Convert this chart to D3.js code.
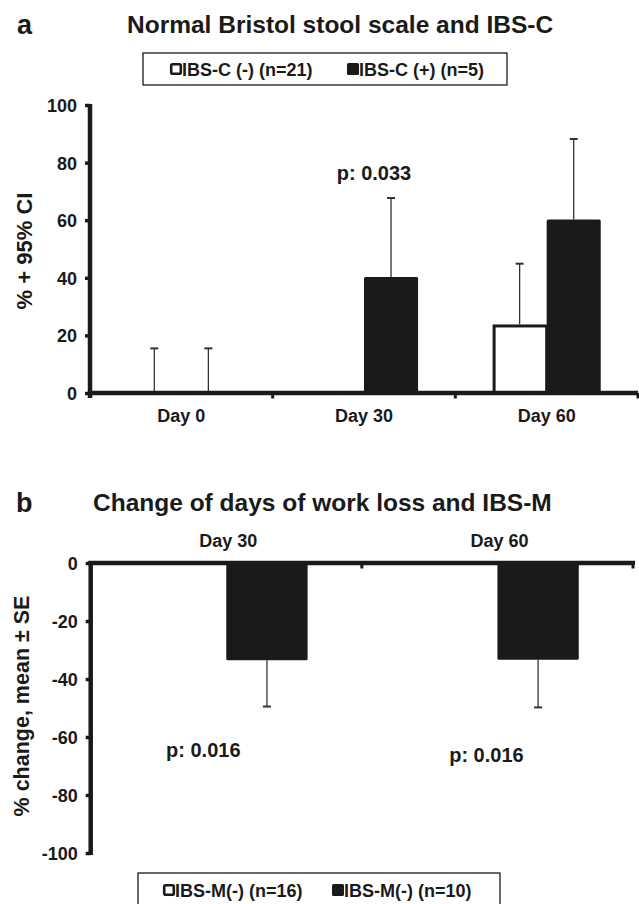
<!doctype html>
<html lang="en">
<head>
    <meta charset="UTF-8">
    <title>Bristol stool scale and work loss</title>
    <script src="https://d3js.org/d3.v7.min.js"></script>
    <style>
      body { margin: 0; background: #fff; }
      text { font-family: "Liberation Sans", Arial, sans-serif; font-weight: bold; fill: #1a1a1a; }
    </style>
</head>
<body>
    <svg width="639" height="904"></svg>

    <script>

      // Panel a data: % with normal Bristol stool scale, upper 95% CI
      const daysA = ["Day 0", "Day 30", "Day 60"];
      const seriesA = ["IBS-C (-) (n=21)", "IBS-C (+) (n=5)"];
      const ibsCneg = [0, 0, 23.8];
      const ibsCnegUpper = [15.5, 0, 44.9];
      const ibsCpos = [0, 40.3, 60.2];
      const ibsCposUpper = [15.5, 67.7, 88.2];
      const pA = [null, "p: 0.033", null];
      const ticksA = [0, 20, 40, 60, 80, 100];

      // Panel b data: % change of days of work loss, mean and SE
      const daysB = ["Day 30", "Day 60"];
      const seriesB = ["IBS-M(-) (n=16)", "IBS-M(-) (n=10)"];
      const ibsMneg = [0, 0];
      const ibsMnegSE = [0, 0];
      const ibsMpos = [-33.5, -33.4];
      const ibsMposSE = [16.0, 16.4];
      const pB = ["p: 0.016", "p: 0.016"];
      const ticksB = [0, -20, -40, -60, -80, -100];

      const ink = "#1a1a1a";
      const svg = d3.select("svg");

      function bars(days, values, errs) {
        return days.map((d, i) => values.map((v, s) => ({ day: d, s, v: v[i], e: errs[s][i] })));
      }

      function drawLegend(g, names, x0, y0, w, h, pos) {
        g.append("rect")
            .attr("x", x0).attr("y", y0).attr("width", w).attr("height", h)
            .attr("fill", "#fff").attr("stroke", ink).attr("stroke-width", 1.3);
        names.forEach((n, i) => {
          const sx = pos[i];
          g.append("rect")
              .attr("x", sx + (i === 0 ? 1.2 : 0)).attr("y", y0 + h / 2 - (i === 0 ? 4.8 : 6))
              .attr("width", i === 0 ? 9.6 : 12).attr("height", i === 0 ? 9.6 : 12)
              .attr("rx", 1.5)
              .attr("fill", i === 0 ? "#fff" : ink)
              .attr("stroke", ink).attr("stroke-width", i === 0 ? 2.6 : 0);
          g.append("text")
              .attr("x", sx + 12).attr("y", y0 + h / 2 + 6.5)
              .attr("font-size", 18)
              .text(n);
        });
      }

      function styleAxis(axis, d) {
        axis.select(".domain").attr("stroke", ink).attr("stroke-width", 4.5).attr("d", d);
        axis.selectAll(".tick line").attr("stroke", ink).attr("stroke-width", 3.5);
        axis.selectAll(".tick text").attr("font-size", 18).attr("dy", "0.36em")
            .style("font-family", "'Liberation Sans', Arial, sans-serif").style("font-weight", "bold").attr("fill", ink);
      }

      // ---------- Panel a ----------
      const ga = svg.append("g");
      const xa = d3.scaleBand().domain(daysA).range([90, 638]);
      const ya = d3.scaleLinear().domain([0, 100]).range([393, 105]);
      const bwA = xa.bandwidth() * 0.296;
      const dataA = bars(daysA, [ibsCneg, ibsCpos], [ibsCnegUpper, ibsCposUpper]);

      ga.append("text").attr("x", 17).attr("y", 34).attr("font-size", 27).text("a");
      ga.append("text").attr("x", 127).attr("y", 33).attr("font-size", 24.5)
          .text("Normal Bristol stool scale and IBS-C");

      drawLegend(ga, seriesA, 143, 53, 364, 32, [170, 347]);

      dataA.flat().forEach(d => {
        const cx = xa(d.day) + xa.bandwidth() / 2;
        const x = d.s === 0 ? cx - bwA : cx;
        // error bar (upper CI)
        if (d.e > d.v) {
          const ex = x + bwA / 2;
          ga.append("line").attr("x1", ex).attr("x2", ex)
              .attr("y1", ya(d.v)).attr("y2", ya(d.e))
              .attr("stroke", "#333").attr("stroke-width", 1.3);
          ga.append("line").attr("x1", ex - 4).attr("x2", ex + 4)
              .attr("y1", ya(d.e)).attr("y2", ya(d.e))
              .attr("stroke", "#333").attr("stroke-width", 2);
        }
        if (d.v > 0) {
          ga.append("rect")
              .attr("x", d.s === 0 ? x + 1.5 : x).attr("y", ya(d.v) + (d.s === 0 ? 1.5 : 0))
              .attr("width", d.s === 0 ? bwA - 1.5 : bwA)
              .attr("height", ya(0) - ya(d.v) - (d.s === 0 ? 1.5 : 0))
              .attr("rx", d.s === 0 ? 0 : 1.5)
              .attr("fill", d.s === 0 ? "#fff" : ink)
              .attr("stroke", ink).attr("stroke-width", d.s === 0 ? 3 : 0);
        }
      });

      const axisA = ga.append("g")
          .attr("transform", "translate(90,0)")
          .call(d3.axisLeft(ya).tickValues(ticksA).tickFormat(d => String(d)).tickSize(5).tickPadding(8));
      styleAxis(axisA, `M0,${ya(100) - 1}V${ya(0) + 5}`);

      ga.append("line").attr("x1", 88).attr("x2", 638)
          .attr("y1", ya(0)).attr("y2", ya(0))
          .attr("stroke", ink).attr("stroke-width", 4.5);
      daysA.forEach(d => {
        const tx = xa(d) + xa.bandwidth();
        ga.append("line").attr("x1", tx).attr("x2", tx)
            .attr("y1", ya(0)).attr("y2", ya(0) + 5.5)
            .attr("stroke", ink).attr("stroke-width", 3);
        ga.append("text").attr("x", xa(d) + xa.bandwidth() / 2).attr("y", 422)
            .attr("text-anchor", "middle").attr("font-size", 18).text(d);
      });

      pA.forEach((p, i) => {
        if (!p) return;
        ga.append("text").attr("x", xa(daysA[i]) + xa.bandwidth() / 2 + 10).attr("y", 180)
            .attr("text-anchor", "middle").attr("font-size", 20).text(p);
      });

      ga.append("text")
          .attr("transform", `translate(32,251) rotate(-90)`)
          .attr("text-anchor", "middle").attr("font-size", 22)
          .text("% + 95% CI");

      // ---------- Panel b ----------
      const gb = svg.append("g");
      const xb = d3.scaleBand().domain(daysB).range([90.7, 633]);
      const yb = d3.scaleLinear().domain([0, -100]).range([563, 853]);
      const bwB = xb.bandwidth() * 0.3;
      const dataB = bars(daysB, [ibsMneg, ibsMpos], [ibsMnegSE, ibsMposSE]);

      gb.append("text").attr("x", 16).attr("y", 512).attr("font-size", 27).text("b");
      gb.append("text").attr("x", 93).attr("y", 511).attr("font-size", 24.5)
          .text("Change of days of work loss and IBS-M");

      dataB.flat().forEach(d => {
        const cx = xb(d.day) + xb.bandwidth() / 2;
        const x = d.s === 0 ? cx - bwB : cx;
        if (d.e > 0) {
          const ex = x + bwB / 2;
          const lo = d.v - d.e;
          gb.append("line").attr("x1", ex).attr("x2", ex)
              .attr("y1", yb(d.v)).attr("y2", yb(lo))
              .attr("stroke", "#333").attr("stroke-width", 1.3);
          gb.append("line").attr("x1", ex - 4).attr("x2", ex + 4)
              .attr("y1", yb(lo)).attr("y2", yb(lo))
              .attr("stroke", "#333").attr("stroke-width", 2);
        }
        if (d.v < 0) {
          gb.append("rect")
              .attr("x", x).attr("y", yb(0))
              .attr("width", bwB).attr("height", yb(d.v) - yb(0))
              .attr("rx", 1.5)
              .attr("fill", d.s === 0 ? "#fff" : ink);
        }
      });

      const axisB = gb.append("g")
          .attr("transform", "translate(90.7,0)")
          .call(d3.axisLeft(yb).tickValues(ticksB).tickFormat(d => String(d)).tickSize(5).tickPadding(8));
      styleAxis(axisB, `M0,${yb(0) - 2}V${yb(-100) + 2}`);

      gb.append("line").attr("x1", 88.5).attr("x2", 635)
          .attr("y1", yb(0)).attr("y2", yb(0))
          .attr("stroke", ink).attr("stroke-width", 4.5);
      daysB.forEach(d => {
        const tx = xb(d) + xb.bandwidth();
        gb.append("line").attr("x1", tx).attr("x2", tx)
            .attr("y1", yb(0)).attr("y2", yb(0) + 5.5)
            .attr("stroke", ink).attr("stroke-width", 3);
        gb.append("text").attr("x", xb(d) + xb.bandwidth() / 2 + 2).attr("y", 547)
            .attr("text-anchor", "middle").attr("font-size", 18).text(d);
      });

      const pBy = [757, 762];
      pB.forEach((p, i) => {
        gb.append("text").attr("x", xb(daysB[i]) + xb.bandwidth() / 2 - (i === 0 ? 23 : 11)).attr("y", pBy[i])
            .attr("text-anchor", "middle").attr("font-size", 20).text(p);
      });

      gb.append("text")
          .attr("transform", `translate(29,706) rotate(-90)`)
          .attr("text-anchor", "middle").attr("font-size", 21.5)
          .text("% change, mean ± SE");

      drawLegend(gb, seriesB, 138, 873, 362, 34, [163, 332]);

    </script>
</body>
</html>
